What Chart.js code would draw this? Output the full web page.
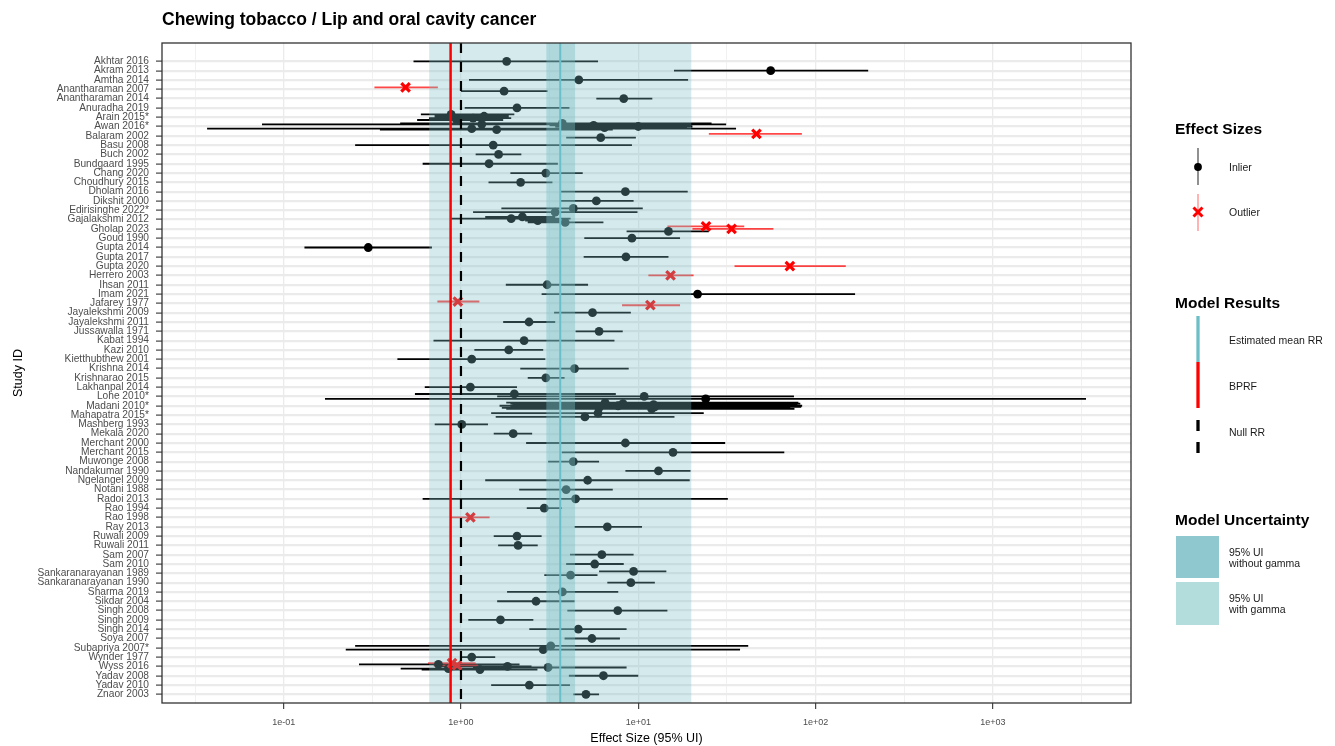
<!DOCTYPE html>
<html>
<head>
<meta charset="utf-8">
<script src="https://cdn.jsdelivr.net/npm/chart.js@4.4.1/dist/chart.umd.min.js"></script>
<style>
  html, body { margin: 0; padding: 0; background: #fff; }
  #wrap { position: relative; width: 1335px; height: 746px; font-family: "Liberation Sans", Arial, sans-serif; }
  #c { position: absolute; left: 0; top: 0; }
  #over { position: absolute; left: 0; top: 0; pointer-events: none; }
</style>
</head>
<body>
<div id="wrap">
  <canvas id="c" width="1335" height="746"></canvas>
  <svg id="over" width="1335" height="746" font-family="Liberation Sans, Arial, sans-serif">
    <text x="162" y="25" font-size="17.5" font-weight="bold" fill="#000">Chewing tobacco / Lip and oral cavity cancer</text>

    <text x="1175" y="134" font-size="15.5" font-weight="bold">Effect Sizes</text>
    <line x1="1198" y1="148" x2="1198" y2="185" stroke="#555" stroke-width="1.3"/>
    <circle cx="1198" cy="167" r="3.9" fill="#000"/>
    <text x="1229" y="170.5" font-size="10.5" fill="#1a1a1a">Inlier</text>
    <line x1="1198" y1="194" x2="1198" y2="231" stroke="#ff8a8a" stroke-width="1.3"/>
    <path d="M1193.5 207.5 L1202.5 216.5 M1202.5 207.5 L1193.5 216.5" stroke="#ff0000" stroke-width="3"/>
    <text x="1229" y="216" font-size="10.5" fill="#1a1a1a">Outlier</text>

    <text x="1175" y="307.5" font-size="15.5" font-weight="bold">Model Results</text>
    <line x1="1198" y1="316" x2="1198" y2="362" stroke="#6cbfc6" stroke-width="3.3"/>
    <line x1="1198" y1="362" x2="1198" y2="408" stroke="#ff0000" stroke-width="3.3"/>
    <line x1="1198" y1="420" x2="1198" y2="431" stroke="#000" stroke-width="3.3"/>
    <line x1="1198" y1="442" x2="1198" y2="453" stroke="#000" stroke-width="3.3"/>
    <text x="1229" y="343.5" font-size="10.5" fill="#1a1a1a">Estimated mean RR</text>
    <text x="1229" y="389.5" font-size="10.5" fill="#1a1a1a">BPRF</text>
    <text x="1229" y="435.5" font-size="10.5" fill="#1a1a1a">Null RR</text>

    <text x="1175" y="524.5" font-size="15.5" font-weight="bold">Model Uncertainty</text>
    <rect x="1176" y="536" width="43" height="42" fill="#8fc9cf"/>
    <rect x="1176" y="582" width="43" height="43" fill="#b3dcdd"/>
    <text x="1229" y="556" font-size="10.5" fill="#1a1a1a">95% UI</text>
    <text x="1229" y="567" font-size="10.5" fill="#1a1a1a">without gamma</text>
    <text x="1229" y="602" font-size="10.5" fill="#1a1a1a">95% UI</text>
    <text x="1229" y="613" font-size="10.5" fill="#1a1a1a">with gamma</text>
  </svg>
</div>
<script>
// study rows, top to bottom
const studies = [
  'Akhtar 2016', 'Akram 2013', 'Amtha 2014', 'Anantharaman 2007', 'Anantharaman 2014',
  'Anuradha 2019', 'Arain 2015*', 'Awan 2016*', 'Balaram 2002', 'Basu 2008', 'Buch 2002',
  'Bundgaard 1995', 'Chang 2020', 'Choudhury 2015', 'Dholam 2016', 'Dikshit 2000',
  'Edirisinghe 2022*', 'Gajalakshmi 2012', 'Gholap 2023', 'Goud 1990', 'Gupta 2014',
  'Gupta 2017', 'Gupta 2020', 'Herrero 2003', 'Ihsan 2011', 'Imam 2021', 'Jafarey 1977',
  'Jayalekshmi 2009', 'Jayalekshmi 2011', 'Jussawalla 1971', 'Kabat 1994', 'Kazi 2010',
  'Kietthubthew 2001', 'Krishna 2014', 'Krishnarao 2015', 'Lakhanpal 2014', 'Lohe 2010*',
  'Madani 2010*', 'Mahapatra 2015*', 'Mashberg 1993', 'Mekala 2020', 'Merchant 2000',
  'Merchant 2015', 'Muwonge 2008', 'Nandakumar 1990', 'Ngelangel 2009', 'Notani 1988',
  'Radoi 2013', 'Rao 1994', 'Rao 1998', 'Ray 2013', 'Ruwali 2009', 'Ruwali 2011',
  'Sam 2007', 'Sam 2010', 'Sankaranarayanan 1989', 'Sankaranarayanan 1990', 'Sharma 2019',
  'Sikdar 2004', 'Singh 2008', 'Singh 2009', 'Singh 2014', 'Soya 2007', 'Subapriya 2007*',
  'Wynder 1977', 'Wyss 2016', 'Yadav 2008', 'Yadav 2010', 'Znaor 2003'
];

// one entry per observation (several per study for some rows)
const obsStudy = [
  'Akhtar 2016', 'Akram 2013', 'Amtha 2014', 'Anantharaman 2007', 'Anantharaman 2007',
  'Anantharaman 2014', 'Anuradha 2019',
  'Arain 2015*', 'Arain 2015*', 'Arain 2015*', 'Arain 2015*',
  'Awan 2016*', 'Awan 2016*', 'Awan 2016*', 'Awan 2016*', 'Awan 2016*', 'Awan 2016*', 'Awan 2016*',
  'Balaram 2002', 'Balaram 2002', 'Basu 2008', 'Buch 2002', 'Bundgaard 1995', 'Chang 2020',
  'Choudhury 2015', 'Dholam 2016', 'Dikshit 2000', 'Edirisinghe 2022*', 'Edirisinghe 2022*',
  'Gajalakshmi 2012', 'Gajalakshmi 2012', 'Gajalakshmi 2012', 'Gajalakshmi 2012',
  'Gholap 2023', 'Gholap 2023', 'Gholap 2023', 'Goud 1990', 'Gupta 2014', 'Gupta 2017',
  'Gupta 2020', 'Herrero 2003', 'Ihsan 2011', 'Imam 2021', 'Jafarey 1977', 'Jafarey 1977',
  'Jayalekshmi 2009', 'Jayalekshmi 2011', 'Jussawalla 1971', 'Kabat 1994', 'Kazi 2010',
  'Kietthubthew 2001', 'Krishna 2014', 'Krishnarao 2015', 'Lakhanpal 2014',
  'Lohe 2010*', 'Lohe 2010*', 'Lohe 2010*',
  'Madani 2010*', 'Madani 2010*', 'Madani 2010*', 'Madani 2010*', 'Madani 2010*', 'Madani 2010*', 'Madani 2010*',
  'Mahapatra 2015*', 'Mahapatra 2015*', 'Mashberg 1993', 'Mekala 2020', 'Merchant 2000',
  'Merchant 2015', 'Muwonge 2008', 'Nandakumar 1990', 'Ngelangel 2009', 'Notani 1988',
  'Radoi 2013', 'Rao 1994', 'Rao 1998', 'Ray 2013', 'Ruwali 2009', 'Ruwali 2011',
  'Sam 2007', 'Sam 2010', 'Sankaranarayanan 1989', 'Sankaranarayanan 1989',
  'Sankaranarayanan 1990', 'Sharma 2019', 'Sikdar 2004', 'Singh 2008', 'Singh 2009',
  'Singh 2014', 'Soya 2007', 'Subapriya 2007*', 'Subapriya 2007*', 'Wynder 1977',
  'Wyss 2016', 'Wyss 2016', 'Wyss 2016', 'Wyss 2016', 'Wyss 2016', 'Wyss 2016', 'Wyss 2016',
  'Yadav 2008', 'Yadav 2010', 'Znaor 2003'
];
const obsRR = [
  1.81, 55.8, 4.62, 0.487, 1.75,
  8.28, 2.07,
  0.88, 1.35, 1.17, 0.945,
  3.73, 1.31, 5.6, 10.0, 6.45, 1.15, 1.59,
  46.4, 6.14, 1.52, 1.63, 1.44, 3.01,
  2.17, 8.46, 5.8, 4.30, 3.40,
  2.22, 1.92, 2.71, 3.87,
  24.1, 33.6, 14.8, 9.21, 0.30, 8.52,
  71.6, 15.2, 3.06, 21.6, 0.96, 11.7,
  5.52, 2.42, 6.01, 2.27, 1.86,
  1.15, 4.37, 3.01, 1.13,
  2.0, 10.8, 24.0,
  6.5, 8.2, 12.2, 7.7, 12.4, 6.0, 11.9,
  5.93, 5.0, 1.01, 1.97, 8.46,
  15.7, 4.30, 13.0, 5.18, 3.92,
  4.43, 2.95, 1.13, 6.69, 2.07, 2.10,
  6.23, 5.68, 9.41, 4.15,
  9.08, 3.73, 2.65, 7.66, 1.67,
  4.59, 5.48, 3.21, 2.91, 1.15,
  0.89, 0.746, 0.95, 1.83, 3.10, 0.849, 1.28,
  6.36, 2.43, 5.07
];
const obsLower = [
  0.54, 15.9, 1.11, 0.325, 1.0,
  5.8, 1.05,
  0.594, 0.71, 0.66, 0.566,
  0.454, 0.0755, 3.16, 3.4, 3.65, 0.037, 0.349,
  25.0, 3.92, 0.253, 1.21, 0.608, 1.90,
  1.43, 3.65, 3.65, 1.69, 1.17,
  1.37, 0.88, 2.30, 2.38,
  14.6, 20.2, 8.59, 4.96, 0.131, 4.92,
  34.9, 11.4, 1.79, 2.85, 0.736, 8.1,
  3.35, 1.73, 4.43, 0.70, 1.19,
  0.438, 2.16, 2.38, 0.625,
  0.55, 1.6, 0.171,
  1.8, 1.9, 1.95, 1.65, 1.9, 1.7, 1.8,
  1.48, 1.57, 0.711, 1.53, 2.33,
  3.70, 3.10, 8.46, 1.37, 2.13,
  0.608, 2.35, 0.88, 4.37, 1.53, 1.62,
  4.12, 3.92, 6.01, 2.95,
  6.69, 1.82, 1.60, 3.98, 1.10,
  2.43, 3.84, 0.253, 0.224, 1.0,
  0.653, 0.266, 0.70, 0.75, 1.17, 0.457, 0.6,
  4.06, 1.48, 4.30
];
const obsUpper = [
  5.93, 198, 19.1, 0.741, 3.08,
  12.0, 4.09,
  2.0, 1.86, 1.92, 1.73,
  25.9, 31.3, 19.9, 20.2, 18.8, 35.6, 7.18,
  83.7, 9.69, 9.21, 2.19, 3.52, 4.86,
  3.28, 19.0, 9.41, 10.6, 9.9,
  3.40, 4.15, 3.65, 6.36,
  39.6, 57.8, 25.0, 17.2, 0.686, 14.8,
  148, 20.5, 5.21, 167, 1.27, 17.2,
  9.08, 3.40, 8.17, 7.34, 2.91,
  2.99, 8.83, 3.84, 2.07,
  7.47, 75.5, 3350,
  80, 82, 79, 84, 83, 72, 76,
  23.4, 16.0, 1.42, 2.52, 30.9,
  66.6, 6.01, 19.7, 19.5, 7.18,
  32.0, 3.70, 1.45, 10.5, 2.85, 2.71,
  9.41, 8.28, 14.4, 5.89,
  12.4, 7.71, 4.37, 14.6, 2.56,
  8.59, 7.88, 41.7, 37.5, 1.56,
  1.21, 2.14, 1.25, 2.5, 8.59, 1.92, 2.7,
  10.0, 4.12, 6.01
];
// 1 = outlier
const obsOutlier = [
  0, 0, 0, 1, 0,
  0, 0,
  0, 0, 0, 0,
  0, 0, 0, 0, 0, 0, 0,
  1, 0, 0, 0, 0, 0,
  0, 0, 0, 0, 0,
  0, 0, 0, 0,
  1, 1, 0, 0, 0, 0,
  1, 1, 0, 0, 1, 1,
  0, 0, 0, 0, 0,
  0, 0, 0, 0,
  0, 0, 0,
  0, 0, 0, 0, 0, 0, 0,
  0, 0, 0, 0, 0,
  0, 0, 0, 0, 0,
  0, 0, 1, 0, 0, 0,
  0, 0, 0, 0,
  0, 0, 0, 0, 0,
  0, 0, 0, 0, 0,
  1, 0, 1, 0, 0, 0, 0,
  0, 0, 0
];

// model results
const meanRR = 3.63;
const bprf = 0.874;
const nullRR = 1;
const uiWithoutGamma = [3.03, 4.40];
const uiWithGamma = [0.662, 19.9];

const xTickValues = [0.1, 1, 10, 100, 1000];
const xTickLabels = ['1e-01', '1e+00', '1e+01', '1e+02', '1e+03'];

// dodge observations of the same study around its row
const dodge = 0.8;
const nPer = {}, seen = {};
obsStudy.forEach(s => { nPer[s] = (nPer[s] || 0) + 1; });
const obsY = obsStudy.map(s => {
  const k = seen[s] = (seen[s] === undefined ? 0 : seen[s] + 1);
  return studies.indexOf(s) - dodge / 2 + dodge * (k + 0.5) / nPer[s];
});

function whiskers(outl) {
  const d = [];
  obsRR.forEach((v, i) => {
    if (obsOutlier[i] !== outl) return;
    d.push({x: obsLower[i], y: obsY[i]}, {x: obsUpper[i], y: obsY[i]}, {x: obsUpper[i], y: NaN});
  });
  return d;
}
function points(outl) {
  const d = [];
  obsRR.forEach((v, i) => { if (obsOutlier[i] === outl) d.push({x: v, y: obsY[i]}); });
  return d;
}

const isDecade = v => Math.abs(Math.log10(v) - Math.round(Math.log10(v))) < 1e-6;

const overlay = {
  id: 'overlay',
  afterDatasetsDraw(chart) {
    const ctx = chart.ctx, x = chart.scales.x, a = chart.chartArea;
    const px = v => x.getPixelForValue(v);
    ctx.save();
    ctx.beginPath();
    ctx.rect(a.left, a.top, a.right - a.left, a.bottom - a.top);
    ctx.clip();
    ctx.fillStyle = 'rgba(120,190,197,0.32)';
    ctx.fillRect(px(uiWithGamma[0]), a.top, px(uiWithGamma[1]) - px(uiWithGamma[0]), a.bottom - a.top);
    ctx.fillStyle = 'rgba(120,190,197,0.40)';
    ctx.fillRect(px(uiWithoutGamma[0]), a.top, px(uiWithoutGamma[1]) - px(uiWithoutGamma[0]), a.bottom - a.top);
    const vline = (v, color, w, dash) => {
      ctx.beginPath();
      ctx.setLineDash(dash || []);
      ctx.strokeStyle = color;
      ctx.lineWidth = w;
      ctx.moveTo(px(v), a.top);
      ctx.lineTo(px(v), a.bottom);
      ctx.stroke();
    };
    vline(meanRR, '#6cbfc6', 2);
    vline(nullRR, '#000', 2.2, [10, 9]);
    vline(bprf, '#ff0000', 2.5);
    ctx.restore();
  },
  afterDraw(chart) {
    const ctx = chart.ctx, a = chart.chartArea;
    ctx.save();
    ctx.strokeStyle = '#333';
    ctx.lineWidth = 1.3;
    ctx.strokeRect(a.left, a.top, a.right - a.left, a.bottom - a.top);
    ctx.restore();
  }
};

new Chart(document.getElementById('c'), {
  type: 'scatter',
  data: {
    datasets: [
      { data: whiskers(0), showLine: true, spanGaps: false, borderColor: '#000', borderWidth: 1.8,
        pointRadius: 0, order: 4 },
      { data: whiskers(1), showLine: true, spanGaps: false, borderColor: 'rgba(255,0,0,0.72)', borderWidth: 1.8,
        pointRadius: 0, order: 3 },
      { data: points(0), pointStyle: 'circle', pointRadius: 4.4, backgroundColor: '#000', borderWidth: 0, order: 2 },
      { data: points(1), pointStyle: 'crossRot', pointRadius: 6, borderColor: '#ff0000', borderWidth: 3.2, order: 1 }
    ]
  },
  options: {
    responsive: false,
    animation: false,
    events: [],
    layout: { padding: { top: 43, right: 204, bottom: 0, left: 0 } },
    plugins: { legend: { display: false }, tooltip: { enabled: false } },
    scales: {
      x: {
        type: 'logarithmic',
        min: 0.0206,
        max: 6010,
        afterFit: s => { s.height = 43; },
        afterBuildTicks: s => {
          const t = [];
          for (let k = -2; k <= 3; k++) {
            if (k >= -1) t.push({value: Math.pow(10, k)});
            t.push({value: Math.pow(10, k + 0.5)});
          }
          s.ticks = t.filter(o => o.value >= 0.0206 && o.value <= 6010);
        },
        border: { display: false },
        grid: {
          color: '#ebebeb',
          lineWidth: c => (c.tick && isDecade(c.tick.value)) ? 1.3 : 0.7,
          tickColor: c => (c.tick && isDecade(c.tick.value)) ? '#333' : 'rgba(0,0,0,0)',
          tickWidth: 1.1,
          tickLength: 6
        },
        ticks: {
          autoSkip: false,
          maxRotation: 0,
          padding: 8,
          color: '#4d4d4d',
          font: { family: 'Liberation Sans', size: 9 },
          callback: v => {
            const i = xTickValues.findIndex(t => Math.abs(t - v) / t < 1e-6);
            return i >= 0 ? xTickLabels[i] : '';
          }
        },
        title: {
          display: true,
          text: 'Effect Size (95% UI)',
          color: '#000',
          font: { family: 'Liberation Sans', size: 12.5 },
          padding: { top: 0, bottom: 0 }
        }
      },
      y: {
        type: 'linear',
        reverse: true,
        min: -1.97,
        max: 68.93,
        afterFit: s => { s.width = 162; },
        afterBuildTicks: s => { s.ticks = studies.map((n, i) => ({value: i})); },
        border: { display: false },
        grid: { color: '#ebebeb', lineWidth: 2.2, tickColor: '#333', tickWidth: 1.1, tickLength: 6 },
        ticks: {
          autoSkip: false,
          padding: 7,
          color: '#4d4d4d',
          font: { family: 'Liberation Sans', size: 10.2, lineHeight: 1 },
          callback: v => studies[Math.round(v)]
        },
        title: {
          display: true,
          text: 'Study ID',
          color: '#000',
          font: { family: 'Liberation Sans', size: 12.5 },
          padding: { top: 11, bottom: 0 }
        }
      }
    }
  },
  plugins: [overlay]
});
</script>
</body>
</html>
